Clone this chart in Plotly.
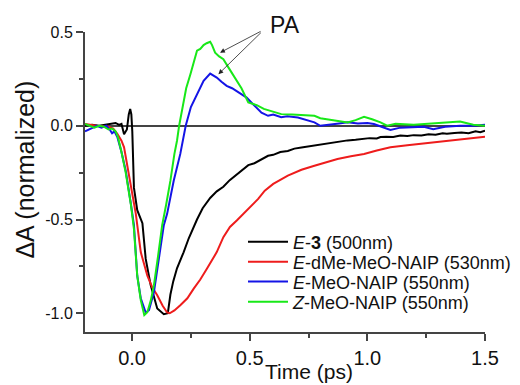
import plotly.graph_objects as go

# ---- data ----
black_x = [-0.2, -0.17, -0.14, -0.11, -0.09, -0.07, -0.055, -0.045, -0.034, -0.022, -0.014, -0.008,
           -0.003, 0.001, 0.008, 0.022, 0.044, 0.058, 0.079, 0.107, 0.135, 0.152, 0.163, 0.175, 0.191,
           0.205, 0.219, 0.241, 0.26, 0.276, 0.3, 0.332, 0.36, 0.388, 0.415, 0.444, 0.47, 0.494, 0.52,
           0.55, 0.578, 0.6, 0.63, 0.662, 0.69, 0.72, 0.75, 0.775, 0.8, 0.83, 0.86, 0.89, 0.916, 0.95,
           0.98, 1.01, 1.04, 1.056, 1.08, 1.11, 1.14, 1.17, 1.197, 1.23, 1.26, 1.29, 1.32, 1.338, 1.37,
           1.4, 1.43, 1.46, 1.48, 1.5]
black_y = [0.0, 0.005, 0.0, 0.005, 0.01, 0.015, 0.005, 0.01, -0.045, -0.02, 0.06, 0.09,
           0.06, -0.03, -0.33, -0.45, -0.52, -0.71, -0.85, -0.975, -1.005, -1.0, -0.9, -0.83, -0.76,
           -0.72, -0.675, -0.6, -0.545, -0.5, -0.44, -0.385, -0.35, -0.325, -0.29, -0.26, -0.235, -0.21, -0.2,
           -0.18, -0.16, -0.155, -0.14, -0.135, -0.122, -0.116, -0.11, -0.105, -0.1, -0.094, -0.087, -0.085, -0.078, -0.075,
           -0.07, -0.066, -0.068, -0.06, -0.058, -0.06, -0.052, -0.055, -0.05, -0.052, -0.045, -0.048, -0.04, -0.042, -0.038,
           -0.036, -0.04, -0.03, -0.034, -0.027]

red_x = [-0.2, -0.15, -0.1, -0.08, -0.062, -0.045, -0.034, -0.02, -0.005, 0.016, 0.037, 0.065, 0.085,
         0.107, 0.13, 0.149, 0.16, 0.18, 0.205, 0.235, 0.262, 0.29, 0.318, 0.34, 0.36, 0.388, 0.416,
         0.445, 0.473, 0.505, 0.536, 0.564, 0.6, 0.662, 0.72, 0.775, 0.83, 0.873, 0.93, 0.986, 1.04,
         1.098, 1.17, 1.239, 1.3, 1.366, 1.43, 1.5]
red_y = [0.01, 0.0, -0.005, -0.015, -0.044, -0.08, -0.115, -0.22, -0.33, -0.47, -0.674, -0.8, -0.86,
         -0.904, -0.96, -0.996, -1.0, -0.985, -0.957, -0.92, -0.869, -0.82, -0.763, -0.72, -0.674, -0.594, -0.54,
         -0.505, -0.47, -0.425, -0.39, -0.346, -0.31, -0.266, -0.235, -0.213, -0.193, -0.177, -0.163, -0.151, -0.132,
         -0.115, -0.104, -0.094, -0.085, -0.076, -0.067, -0.059]

blue_x = [-0.2, -0.185, -0.17, -0.15, -0.13, -0.11, -0.095, -0.085, -0.075, -0.062, -0.045, -0.027,
          -0.005, 0.008, 0.022, 0.037, 0.058, 0.072, 0.093, 0.114, 0.135, 0.149, 0.177, 0.205, 0.228,
          0.25, 0.276, 0.304, 0.332, 0.36, 0.38, 0.402, 0.425, 0.444, 0.465, 0.487, 0.51, 0.529, 0.55,
          0.578, 0.6, 0.634, 0.66, 0.705, 0.74, 0.775, 0.8, 0.845, 0.88, 0.916, 0.96, 1.0, 1.028, 1.06,
          1.098, 1.14, 1.197, 1.24, 1.28, 1.33, 1.394, 1.45, 1.5]
blue_y = [-0.03, -0.02, -0.01, 0.0, -0.01, 0.0, -0.02, -0.04, -0.03, -0.062, -0.14, -0.24,
          -0.417, -0.53, -0.8, -0.92, -0.996, -0.984, -0.887, -0.71, -0.53, -0.47, -0.293, -0.15, 0.0,
          0.1, 0.17, 0.24, 0.278, 0.257, 0.235, 0.213, 0.2, 0.186, 0.17, 0.15, 0.12, 0.097, 0.07,
          0.053, 0.06, 0.045, 0.05, 0.044, 0.03, 0.018, 0.0, 0.009, 0.012, 0.018, 0.012, 0.015, 0.009, -0.005,
          -0.023, -0.01, -0.008, -0.005, -0.018, -0.005, 0.0, 0.0, 0.005]

green_x = [-0.2, -0.18, -0.16, -0.14, -0.12, -0.1, -0.085, -0.07, -0.06, -0.045, -0.027, -0.005,
           0.008, 0.022, 0.037, 0.052, 0.065, 0.08, 0.093, 0.11, 0.128, 0.145, 0.163, 0.18, 0.191, 0.2,
           0.215, 0.23, 0.248, 0.262, 0.276, 0.29, 0.304, 0.317, 0.332, 0.34, 0.353, 0.37, 0.388, 0.41,
           0.425, 0.444, 0.465, 0.494, 0.53, 0.56, 0.6, 0.634, 0.68, 0.72, 0.775, 0.8, 0.83, 0.87, 0.916,
           0.95, 0.986, 1.02, 1.056, 1.084, 1.12, 1.197, 1.25, 1.3, 1.35, 1.394, 1.45, 1.5]
green_y = [0.01, 0.0, -0.01, 0.0, -0.005, -0.02, -0.015, -0.03, -0.06, -0.14, -0.25, -0.42,
           -0.55, -0.8, -0.93, -1.01, -0.995, -0.93, -0.85, -0.7, -0.53, -0.42, -0.293, -0.15, -0.08, 0.0,
           0.1, 0.2, 0.275, 0.34, 0.4, 0.41, 0.43, 0.44, 0.448, 0.43, 0.39, 0.37, 0.355, 0.31,
           0.28, 0.24, 0.2, 0.124, 0.11, 0.09, 0.075, 0.062, 0.06, 0.058, 0.053, 0.04, 0.035, 0.025, 0.018,
           0.03, 0.048, 0.035, 0.018, 0.0, 0.01, 0.005, 0.01, 0.012, 0.02, 0.023, 0.005, 0.0]

series_names = ["<i>E</i>-<b>3</b> (500nm)",
                "<i>E</i>-dMe-MeO-NAIP (530nm)",
                "<i>E</i>-MeO-NAIP (550nm)",
                "<i>Z</i>-MeO-NAIP (550nm)"]
series_colors = ["#000000", "#ee1c1c", "#1414e6", "#18e818"]

x_ticks = [0.0, 0.5, 1.0, 1.5]
x_ticklabels = ["0.0", "0.5", "1.0", "1.5"]
y_ticks = [-1.0, -0.5, 0.0, 0.5]
y_ticklabels = ["-1.0", "-0.5", "0.0", "0.5"]

FONT = "Liberation Sans, Arial, sans-serif"
legend_ids = ["legend", "legend2", "legend3", "legend4"]
legend_rows_y = [0.30, 0.233, 0.167, 0.10]

fig = go.Figure()
for xs, ys, name, col, lg in zip([black_x, red_x, blue_x, green_x],
                                 [black_y, red_y, blue_y, green_y],
                                 series_names, series_colors, legend_ids):
    fig.add_trace(go.Scatter(x=xs, y=ys, mode="lines", name=name, legend=lg,
                             line=dict(color=col, width=2)))

legend_style = {}
for lg, ly in zip(legend_ids, legend_rows_y):
    legend_style[lg] = dict(x=0.395, y=ly, xanchor="left", yanchor="middle",
                            bgcolor="rgba(0,0,0,0)", font=dict(size=18, family=FONT, color="#111"),
                            itemwidth=40)

fig.update_layout(
    width=520, height=385,
    margin=dict(l=77, r=40, t=24, b=61),
    paper_bgcolor="white", plot_bgcolor="white",
    font=dict(family=FONT, color="#111"),
    showlegend=True,
    **legend_style,
    xaxis=dict(range=[-0.2, 1.5], showgrid=False, zeroline=False,
               showline=True, linecolor="#444", linewidth=2,
               ticks="outside", ticklen=7, tickwidth=1.5, tickcolor="#444",
               tickvals=x_ticks, ticktext=x_ticklabels,
               tickfont=dict(size=20, family=FONT, color="#111"),
               minor=dict(tickvals=[0.25, 0.75, 1.25], ticks="outside", ticklen=4,
                          tickwidth=1.5, tickcolor="#444")),
    yaxis=dict(range=[-1.1, 0.5], showgrid=False,
               zeroline=True, zerolinecolor="#444", zerolinewidth=2,
               showline=True, linecolor="#444", linewidth=2,
               ticks="outside", ticklen=7, tickwidth=1.5, tickcolor="#444",
               tickvals=y_ticks, ticktext=y_ticklabels,
               tickfont=dict(size=16, family=FONT, color="#111"),
               minor=dict(tickvals=[-0.75, -0.25, 0.25], ticks="outside", ticklen=4,
                          tickwidth=1.5, tickcolor="#444")),
)

# axis titles
fig.add_annotation(text="Time (ps)", xref="paper", yref="paper", x=0.561, y=-0.133,
                   xanchor="center", yanchor="middle", showarrow=False,
                   font=dict(size=21, family=FONT, color="#111"))
fig.add_annotation(text="ΔA (normalized)", xref="paper", yref="paper", x=-0.151, y=0.54,
                   xanchor="center", yanchor="middle", showarrow=False, textangle=-90,
                   font=dict(size=25, family=FONT, color="#111"))

# PA label and arrows
fig.add_annotation(text="PA", x=0.499, y=1.023, xref="paper", yref="paper", showarrow=False,
                   xanchor="center", yanchor="middle",
                   font=dict(size=23, family=FONT, color="#111"))
for hx, hy, ax, ay in [(0.374, 0.39, 42, -22), (0.367, 0.275, 44, -43)]:
    fig.add_annotation(text="", x=hx, y=hy, xref="x", yref="y", ax=ax, ay=ay,
                       showarrow=True, arrowhead=2, arrowsize=1.2, arrowwidth=0.8,
                       arrowcolor="#222")

fig.write_html("out.html")
